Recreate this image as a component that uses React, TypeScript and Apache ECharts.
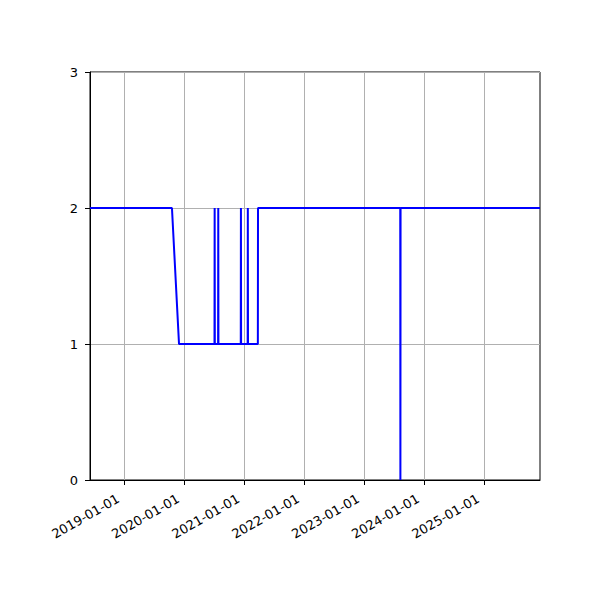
import { useEffect, useRef } from 'react';
import * as echarts from 'echarts';

const dates = [
  '2018-06-06', '2019-10-18', '2019-11-30',
  '2020-07-03', '2020-07-04', '2020-07-05',
  '2020-07-25', '2020-07-26', '2020-07-27',
  '2020-12-10', '2020-12-11', '2020-12-12',
  '2021-01-21', '2021-01-22', '2021-01-23',
  '2021-03-24', '2021-03-25',
  '2023-08-08', '2023-08-09', '2023-08-10',
  '2025-12-06'
];
const values = [
  2, 2, 1,
  1, 2, 1,
  1, 2, 1,
  1, 2, 1,
  1, 2, 1,
  1, 2,
  2, 0, 2,
  2
];
const xTicks = ['2019-01-01', '2020-01-01', '2021-01-01', '2022-01-01', '2023-01-01', '2024-01-01', '2025-01-01'];
const xMin = '2018-06-06';
const xMax = '2025-12-06';

const toMs = (s: string) => {
  const [y, m, d] = s.split('-').map(Number);
  return Date.UTC(y, m - 1, d);
};
const pad = (n: number) => (n < 10 ? '0' + n : '' + n);
const fmt = (v: number) => {
  const d = new Date(v);
  return d.getUTCFullYear() + '-' + pad(d.getUTCMonth() + 1) + '-' + pad(d.getUTCDate());
};

export default function App() {
  const chartRef = useRef<HTMLDivElement>(null);

  useEffect(() => {
    if (!chartRef.current) return;
    const chart = echarts.init(chartRef.current, undefined, { renderer: 'svg' });
    const tickTimes = xTicks.map(toMs);

    const option: echarts.EChartsOption = {
      animation: false,
      backgroundColor: '#fff',
      textStyle: { fontFamily: 'DejaVu Sans' },
      grid: {
        left: 90,
        right: 60,
        top: 72,
        bottom: 120,
        show: true,
        borderColor: '#000',
        borderWidth: 1,
        backgroundColor: 'transparent'
      },
      xAxis: {
        type: 'value',
        min: toMs(xMin),
        max: toMs(xMax),
        axisLine: { show: true, onZero: false, lineStyle: { color: '#000', width: 1 } },
        axisTick: { show: true, length: 5, lineStyle: { color: '#000' }, customValues: tickTimes } as any,
        axisLabel: {
          customValues: tickTimes,
          rotate: 30,
          fontSize: 13,
          color: '#000',
          margin: 14,
          padding: [0, 7, 0, 0],
          formatter: (v: number) => fmt(v)
        } as any,
        splitLine: { show: true, lineStyle: { color: '#b0b0b0', width: 1 } }
      },
      yAxis: {
        type: 'value',
        min: 0,
        max: 3,
        interval: 1,
        axisLine: { show: true, lineStyle: { color: '#000', width: 1 } },
        axisTick: { show: true, length: 5, lineStyle: { color: '#000' } },
        axisLabel: { fontSize: 13, color: '#000', margin: 12 },
        splitLine: { show: true, lineStyle: { color: '#b0b0b0', width: 1 } }
      },
      series: [
        {
          type: 'line',
          data: dates.map((d, i) => [toMs(d), values[i]]),
          showSymbol: false,
          lineStyle: { color: '#0000ff', width: 2 },
          itemStyle: { color: '#0000ff' }
        }
      ]
    };

    chart.setOption(option);
    return () => chart.dispose();
  }, []);

  return (
    <div
      ref={chartRef}
      style={{ position: 'absolute', left: 0, top: 0, width: 600, height: 600 }}
    />
  );
}
